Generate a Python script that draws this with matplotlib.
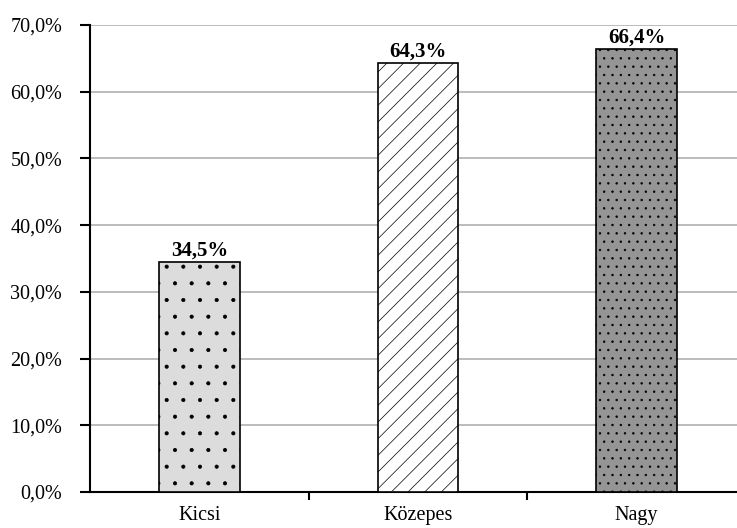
import matplotlib.pyplot as plt
import numpy as np

categories = ["Kicsi", "Közepes", "Nagy"]
values = [34.5, 64.3, 66.4]
value_labels = ["34,5%", "64,3%", "66,4%"]
yticks = [0, 10, 20, 30, 40, 50, 60, 70]
ytick_labels = ["0,0%", "10,0%", "20,0%", "30,0%", "40,0%", "50,0%", "60,0%", "70,0%"]

plt.rcParams['font.family'] = ['Liberation Serif', 'DejaVu Serif']
plt.rcParams['hatch.linewidth'] = 0.5

fig = plt.figure(figsize=(7.37, 5.28), dpi=100)
# axes run a little past the right edge, like the original crop
ax = fig.add_axes([90 / 737, 36 / 528, 656 / 737, 467 / 528])

x = np.arange(len(categories))
colors = ['#dcdcdc', 'white', '#959595']
hatches = ['.', '//', '..']
bars = ax.bar(x, values, width=0.37, color=colors, edgecolor='black',
              linewidth=1.2, zorder=3)
for bar, h in zip(bars, hatches):
    bar.set_hatch(h)

for bar, lab in zip(bars, value_labels):
    ax.text(bar.get_x() + bar.get_width() / 2, bar.get_height() + 0.2, lab,
            ha='center', va='bottom', fontsize=15, fontweight='bold')

ax.set_xlim(-0.5, len(categories) - 0.5)
ax.set_ylim(0, 70)
ax.set_yticks(yticks)
ax.set_yticklabels(ytick_labels, fontsize=14.5)
ax.set_xticks(x)
ax.set_xticklabels(categories, fontsize=14.5)
ax.tick_params(axis='x', length=0, pad=10)
ax.set_xticks(np.arange(len(categories)) + 0.5, minor=True)
ax.tick_params(axis='x', which='minor', length=6, width=1.5, direction='out')
ax.tick_params(axis='y', length=7, width=1.5, direction='out', pad=13)

ax.yaxis.grid(True, color='#b0b0b0', linewidth=1.2, zorder=0)
ax.spines['top'].set_visible(False)
ax.spines['right'].set_visible(False)
ax.spines['left'].set_linewidth(1.5)
ax.spines['bottom'].set_linewidth(1.5)

fig.savefig("out.png", dpi=100)
